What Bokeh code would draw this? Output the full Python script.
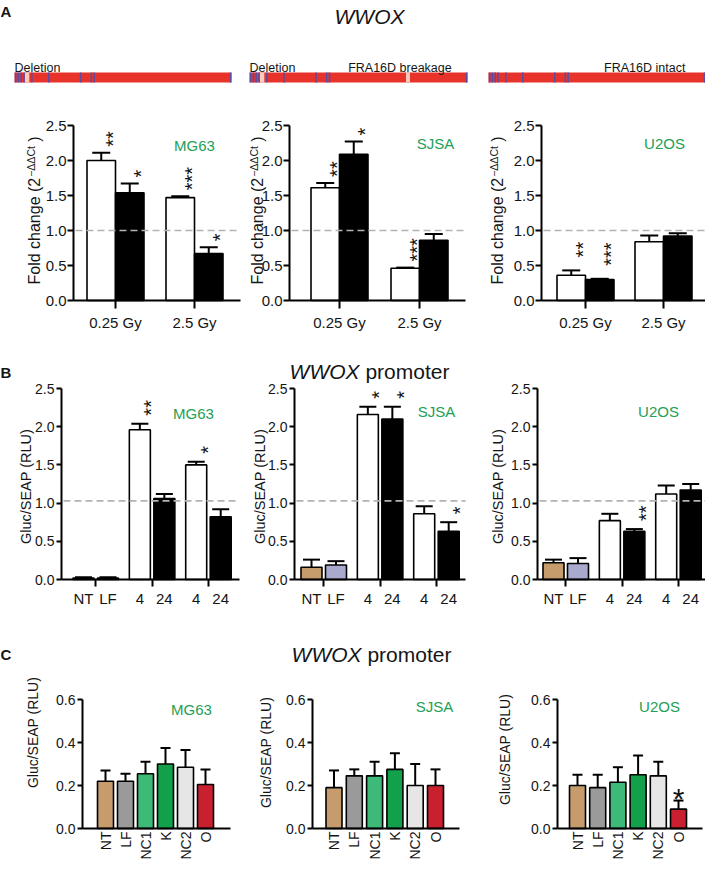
import math
from bokeh.plotting import figure
from bokeh.layouts import column, row
from bokeh.models import Range1d, FixedTicker, NumeralTickFormatter
from bokeh.embed import file_html
from bokeh.resources import INLINE
from bokeh.core.properties import value

FONT = "Liberation Sans"
GREEN = "#23a055"
INK = "#151515"
RED = "#e8332b"
BLUE = "#5a4fa8"
PINK = "#f8cbbd"
DASH = "#b3b3b3"

# ===================== DATA =====================
# A (top): WWOX locus cartoons - marker / gap positions as fractions of locus length
locus_markers = [0.005, 0.018, 0.031, 0.044, 0.080, 0.158, 0.305, 0.354, 0.367, 0.996]
locus_MG63_gaps = [[0.047, 0.068]]
locus_SJSA_gaps = [[0.047, 0.068], [0.718, 0.736]]
locus_U2OS_gaps = []
locus_MG63_notes = ["Deletion"]
locus_SJSA_notes = ["Deletion", "FRA16D breakage"]
locus_U2OS_notes = ["FRA16D intact"]

# A: qPCR fold change
A_groups = ["0.25 Gy", "2.5 Gy"]
A_MG63_white = [2.00, 1.47]
A_MG63_white_sem = [0.11, 0.02]
A_MG63_black = [1.54, 0.67]
A_MG63_black_sem = [0.13, 0.09]
A_MG63_white_sig = ["**", "***"]
A_MG63_black_sig = ["*", "*"]
A_SJSA_white = [1.61, 0.46]
A_SJSA_white_sem = [0.07, 0.01]
A_SJSA_black = [2.09, 0.86]
A_SJSA_black_sem = [0.18, 0.09]
A_SJSA_white_sig = ["**", "***"]
A_SJSA_black_sig = ["*", ""]
A_U2OS_white = [0.36, 0.84]
A_U2OS_white_sem = [0.07, 0.09]
A_U2OS_black = [0.30, 0.92]
A_U2OS_black_sem = [0.01, 0.04]
A_U2OS_white_sig = ["**", ""]
A_U2OS_black_sig = ["***", ""]
A_yticks = [0.0, 0.5, 1.0, 1.5, 2.0, 2.5]

# B: WWOX promoter reporter, NT / LF / 4 h / 24 h / 4 h / 24 h
B_labels = ["NT", "LF", "4", "24", "4", "24"]
B_colors = ["#c69c6d", "#a8a9cc", "white", "black", "white", "black"]
B_MG63 = [0.02, 0.02, 1.96, 1.06, 1.50, 0.82]
B_MG63_sem = [0.01, 0.01, 0.08, 0.06, 0.04, 0.10]
B_MG63_sig = ["", "", "**", "", "*", ""]
B_SJSA = [0.16, 0.19, 2.16, 2.10, 0.86, 0.63]
B_SJSA_sem = [0.10, 0.05, 0.10, 0.16, 0.10, 0.12]
B_SJSA_sig = ["", "", "*", "*", "", "*"]
B_U2OS = [0.22, 0.21, 0.77, 0.63, 1.12, 1.17]
B_U2OS_sem = [0.04, 0.07, 0.09, 0.03, 0.11, 0.08]
B_U2OS_sig = ["", "", "", "**", "", ""]
B_yticks = [0.0, 0.5, 1.0, 1.5, 2.0, 2.5]

# C: WWOX promoter reporter with treatments
C_labels = ["NT", "LF", "NC1", "K", "NC2", "O"]
C_colors = ["#c69c6d", "#9a9a9a", "#3dba78", "#12a04a", "#e6e6e6", "#c8202f"]
C_MG63 = [0.22, 0.22, 0.255, 0.30, 0.285, 0.205]
C_MG63_sem = [0.05, 0.035, 0.055, 0.075, 0.08, 0.07]
C_MG63_sig = ["", "", "", "", "", ""]
C_SJSA = [0.19, 0.245, 0.245, 0.275, 0.20, 0.20]
C_SJSA_sem = [0.08, 0.03, 0.065, 0.075, 0.10, 0.075]
C_SJSA_sig = ["", "", "", "", "", ""]
C_U2OS = [0.20, 0.19, 0.215, 0.25, 0.245, 0.09]
C_U2OS_sem = [0.05, 0.06, 0.07, 0.09, 0.065, 0.04]
C_U2OS_sig = ["", "", "", "", "", "*"]
C_yticks = [0.0, 0.2, 0.4, 0.6]

cells = ["MG63", "SJSA", "U2OS"]


# ===================== HELPERS =====================
class Panel:
    """A figure whose frame fills the whole canvas; axes are drawn at fixed locations
    so that every text (labels, titles) can live inside the frame."""

    def __init__(self, fig_left, fig_w, row_top, row_h, fl, fr, ft, fb, x0, unit, ymax):
        self.fl, self.fr, self.ft, self.fb = fl, fr, ft, fb
        self.x0, self.unit, self.ymax = x0, unit, ymax
        p = figure(width=fig_w, height=row_h,
                   x_range=Range1d(self.X(fig_left), self.X(fig_left + fig_w)),
                   y_range=Range1d(self.Y(row_top + row_h), self.Y(row_top)),
                   output_backend="svg", toolbar_location=None, min_border=0)
        p.outline_line_color = None
        p.grid.visible = False
        p.background_fill_color = "white"
        p.border_fill_color = "white"
        self.p = p

    def X(self, px):
        return (px - self.x0) / self.unit

    def Y(self, py):
        return (self.fb - py) / (self.fb - self.ft) * self.ymax

    def ypx(self, v):
        return self.fb - v / self.ymax * (self.fb - self.ft)

    def w(self, px):
        return px / self.unit

    def text(self, px, py, text, size, align="left", baseline="alphabetic", angle=0.0,
             style="normal", color=INK):
        self.p.text(x=[self.X(px)], y=[self.Y(py)], text=[text], angle=angle,
                    text_align=align, text_baseline=baseline, text_font=value(FONT),
                    text_font_size=f"{size}px", text_font_style=style, text_color=color)


def style_axes(P, yticks, ytick_size, ytick_out, ystand):
    p = P.p
    for ax in (p.xaxis[0], p.yaxis[0]):
        ax.axis_line_width = 2
        ax.axis_line_color = "black"
        ax.major_tick_line_width = 2
        ax.major_tick_line_color = "black"
        ax.major_tick_in = 0
        ax.minor_tick_line_color = None
        ax.major_label_text_font = FONT
        ax.major_label_text_color = INK
    ya = p.yaxis[0]
    ya.fixed_location = P.X(P.fl)
    ya.bounds = (0, P.ymax)
    ya.ticker = FixedTicker(ticks=yticks)
    ya.formatter = NumeralTickFormatter(format="0.0")
    ya.major_label_text_font_size = f"{ytick_size}px"
    ya.major_tick_out = ytick_out
    ya.major_label_standoff = ystand
    xa = p.xaxis[0]
    xa.fixed_location = 0
    xa.bounds = (P.X(P.fl), P.X(P.fr))


def draw_bars(P, xs, vals, sems, fills, bar_px, cap_px, lw=1.6):
    p = P.p
    hi = [v + s for v, s in zip(vals, sems)]
    cw = P.w(cap_px) / 2
    p.segment(x0=xs, y0=vals, x1=xs, y1=hi, line_color="black", line_width=2)
    p.segment(x0=[x - cw for x in xs], y0=hi, x1=[x + cw for x in xs], y1=hi,
              line_color="black", line_width=2)
    p.vbar(x=xs, top=vals, bottom=0, width=P.w(bar_px), fill_color=fills,
           line_color="black", line_width=lw)
    return hi


def dashed_ref(P, level):
    P.p.segment(x0=[P.X(P.fl + 2)], y0=[level], x1=[P.X(P.fr)], y1=[level],
                line_color=DASH, line_dash="7 4", line_width=1.7)


def draw_stars(P, xs, his, sigs, size, gap_px):
    sx, sy, st = [], [], []
    for x, h, s in zip(xs, his, sigs):
        if not s:
            continue
        cy = P.ypx(h) - (gap_px + len(s) * 0.389 * size / 2)
        sx.append(x + P.w(0.57 * size))
        sy.append(P.Y(cy))
        st.append(s)
    if st:
        P.p.text(x=sx, y=sy, text=st, angle=math.pi / 2, text_align="center",
                 text_baseline="alphabetic", text_font=value(FONT),
                 text_font_size=f"{size}px", text_color=INK)


def cell_label(P, cx, cy, text, size=15):
    P.text(cx, cy + 0.358 * size, text, size, align="center", color=GREEN)


def fold_label(P, base_x, start_y):
    fs, fs2 = 16, 10.5
    w_main = 6.67 * fs
    w_sup = 2.92 * fs2
    P.text(base_x, start_y, "Fold change (2", fs, angle=math.pi / 2)
    P.text(base_x - 4, start_y - w_main - 1, "\u2212\u0394\u0394Ct", fs2, angle=math.pi / 2)
    P.text(base_x, start_y - w_main - w_sup - 0.278 * fs - 1, ")", fs, angle=math.pi / 2)


def title(P, cx, base_y, size=21):
    w1 = 3.333 * size
    w2 = 0.278 * size
    w3 = 4.0 * size
    x0 = cx - (w1 + w2 + w3) / 2
    P.text(x0, base_y, "WWOX", size, style="italic")
    P.text(x0 + w1 + w2, base_y, "promoter", size)


# ===================== HEADER (A: locus cartoons) =====================
hdr = figure(width=705, height=92, x_range=Range1d(8, 713), y_range=Range1d(-100, -8),
             output_backend="svg", toolbar_location=None, x_axis_location=None,
             y_axis_location=None, min_border=0)
hdr.outline_line_color = None
hdr.grid.visible = False


def htext(x, y, text, size, align="left", style="normal"):
    hdr.text(x=[x], y=[-y], text=[text], text_align=align, text_baseline="alphabetic",
             text_font=value(FONT), text_font_size=f"{size}px", text_font_style=style,
             text_color=INK)


loc_left = [22, 257, 496]
loc_right = [239, 475, 713]
loc_top, loc_bot = 80, 90
gaps_all = [locus_MG63_gaps, locus_SJSA_gaps, locus_U2OS_gaps]
notes_all = [locus_MG63_notes, locus_SJSA_notes, locus_U2OS_notes]
note_anchor = [[("left", 0.0)], [("left", 0.0), ("center", 0.69)], [("center", 0.72)]]
for i in range(3):
    L, R = loc_left[i], loc_right[i]
    n = R - L
    hdr.quad(left=[L], right=[R], top=[-loc_top], bottom=[-loc_bot], fill_color=RED, line_color=None)
    if gaps_all[i]:
        hdr.quad(left=[L + g[0] * n for g in gaps_all[i]], right=[L + g[1] * n for g in gaps_all[i]],
                 top=-loc_top, bottom=-loc_bot, fill_color=PINK, line_color=None)
    mk = [L + f * n for f in locus_markers]
    hdr.quad(left=[m - 0.8 for m in mk], right=[m + 0.8 for m in mk], top=-loc_top, bottom=-loc_bot,
             fill_color=BLUE, line_color=None)
    for note, (al, f) in zip(notes_all[i], note_anchor[i]):
        htext(L + f * n, 75, note, 12.5, align=al)
htext(8, 19, "A", 15, style="bold")
htext(377, 24, "WWOX", 21, align="center", style="italic")

FIG_LEFT = [8, 250, 480]
FIG_W = [242, 230, 233]

# ===================== ROW A: qPCR =====================
A_geo = [(81, 248, 123, 79), (297, 473, 347, 80), (549, 713, 593, 78)]
A_data = [
    (A_MG63_white, A_MG63_white_sem, A_MG63_black, A_MG63_black_sem, A_MG63_white_sig, A_MG63_black_sig),
    (A_SJSA_white, A_SJSA_white_sem, A_SJSA_black, A_SJSA_black_sem, A_SJSA_white_sig, A_SJSA_black_sig),
    (A_U2OS_white, A_U2OS_white_sem, A_U2OS_black, A_U2OS_black_sem, A_U2OS_white_sig, A_U2OS_black_sig),
]
A_ylab_x = [42, 265, 505]
A_cell_pos = [(202, 148), (443, 146), (672, 146)]
A_star_gap = [6, 6, 13]
rowA = []
for i in range(3):
    fl, fr, t0, unit = A_geo[i]
    P = Panel(FIG_LEFT[i], FIG_W[i], 100, 245, fl, fr, 133, 308, t0, unit, 2.5)
    style_axes(P, A_yticks, 15, 6, 1)
    xa = P.p.xaxis[0]
    xa.ticker = FixedTicker(ticks=[0, 1])
    xa.major_label_overrides = {0: A_groups[0], 1: A_groups[1]}
    xa.major_label_text_font_size = "15px"
    xa.major_tick_out = 8
    xa.major_label_standoff = 5
    wv, ws, bv, bs, wsig, bsig = A_data[i]
    half = P.w(28.5) / 2
    xw = [g - half for g in range(len(A_groups))]
    xb = [g + half for g in range(len(A_groups))]
    hw = draw_bars(P, xw, wv, ws, ["white"] * 2, 28.5, 18)
    hb = draw_bars(P, xb, bv, bs, ["black"] * 2, 28.5, 18)
    dashed_ref(P, 1.0)
    draw_stars(P, xw, hw, wsig, 20, A_star_gap[i])
    draw_stars(P, xb, hb, bsig, 20, A_star_gap[i])
    fold_label(P, A_ylab_x[i], 292)
    cell_label(P, A_cell_pos[i][0], A_cell_pos[i][1], cells[i])
    rowA.append(P.p)

# ===================== ROW B: promoter, time course =====================
B_slots = [0, 1, 2.3, 3.3, 4.6, 5.6]
B_group_mid = [0.5, 2.8, 5.1]
B_geo = [(69, 247, 91), (302, 473, 319), (545, 713, 561)]
B_data = [(B_MG63, B_MG63_sem, B_MG63_sig), (B_SJSA, B_SJSA_sem, B_SJSA_sig), (B_U2OS, B_U2OS_sem, B_U2OS_sig)]
B_ylab_x = [33, 267, 505]
B_cell_pos = [(201, 416), (444, 414), (666, 414)]
rowB = []
for i in range(3):
    fl, fr, x0 = B_geo[i]
    P = Panel(FIG_LEFT[i], FIG_W[i], 345, 275, fl, fr, 396, 587, x0, 24.5, 2.5)
    style_axes(P, B_yticks, 14, 5, 2)
    xa = P.p.xaxis[0]
    xa.ticker = FixedTicker(ticks=B_slots, minor_ticks=B_group_mid)
    xa.major_label_overrides = {s: t for s, t in zip(B_slots, B_labels)}
    xa.major_label_text_font_size = "15px"
    xa.major_tick_out = 0
    xa.major_tick_line_color = None
    xa.minor_tick_line_color = "black"
    xa.minor_tick_line_width = 2
    xa.minor_tick_out = 7
    xa.minor_tick_in = 0
    xa.major_label_standoff = 3
    vals, sems, sigs = B_data[i]
    hi = draw_bars(P, B_slots, vals, sems, B_colors, 21, 17)
    dashed_ref(P, 1.03)
    draw_stars(P, B_slots, hi, sigs, 20, 8)
    P.text(B_ylab_x[i], 494, "Gluc/SEAP (RLU)", 14.5, align="center", angle=math.pi / 2)
    cell_label(P, B_cell_pos[i][0], B_cell_pos[i][1], cells[i])
    if i == 0:
        P.text(8, 380, "B", 15, style="bold")
    if i == 1:
        title(P, 377, 379)
    rowB.append(P.p)

# ===================== ROW C: promoter, treatments =====================
C_slots = list(range(len(C_labels)))
C_geo = [(90, 238, 113, 20.0), (320, 467, 341.5, 20.3), (565, 710, 585, 20.2)]
C_data = [(C_MG63, C_MG63_sem, C_MG63_sig), (C_SJSA, C_SJSA_sem, C_SJSA_sig), (C_U2OS, C_U2OS_sem, C_U2OS_sig)]
C_ylab = [(40, 740, 14), (273, 760, 14), (512, 757, 14)]
C_cell_pos = [(199, 712), (442, 709), (667, 709)]
rowC = []
for i in range(3):
    fl, fr, x0, unit = C_geo[i]
    P = Panel(FIG_LEFT[i], FIG_W[i], 620, 248, fl, fr, 707, 836, x0, unit, 0.6)
    style_axes(P, C_yticks, 14, 5, 2)
    xa = P.p.xaxis[0]
    xa.ticker = FixedTicker(ticks=C_slots)
    xa.major_label_overrides = {s: t for s, t in zip(C_slots, C_labels)}
    xa.major_label_orientation = math.pi / 2
    xa.major_label_text_font_size = "14px"
    xa.major_tick_out = 0
    xa.major_tick_line_color = None
    xa.major_label_standoff = 3
    vals, sems, sigs = C_data[i]
    hi = draw_bars(P, C_slots, vals, sems, C_colors, 16, 10)
    sx, sy, st = [], [], []
    for x, h, s in zip(C_slots, hi, sigs):
        if s:
            cy = P.ypx(h) - 19
            sx.append(x)
            sy.append(P.Y(cy + 0.57 * 30))
            st.append(s)
    if st:
        P.p.text(x=sx, y=sy, text=st, text_align="center", text_baseline="alphabetic",
                 text_font=value(FONT), text_font_size="30px", text_color=INK)
    bx, cyl, fsz = C_ylab[i]
    P.text(bx, cyl, "Gluc/SEAP (RLU)", fsz, align="center", angle=math.pi / 2)
    cell_label(P, C_cell_pos[i][0], C_cell_pos[i][1], cells[i])
    if i == 0:
        P.text(8, 662, "C", 15, style="bold")
    if i == 1:
        title(P, 379, 662)
    rowC.append(P.p)

layout = column(hdr, row(*rowA), row(*rowB), row(*rowC))
open("out.html", "w").write(file_html(layout, INLINE))
